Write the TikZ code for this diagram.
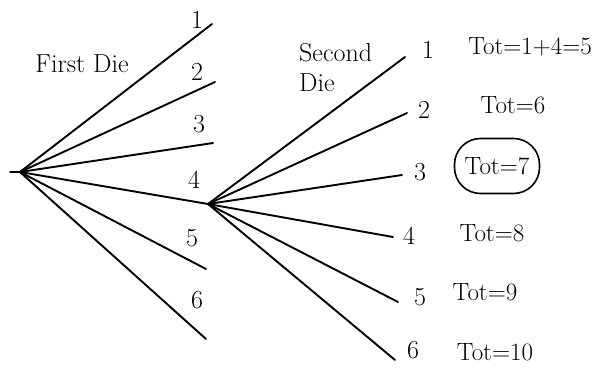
\documentclass[tikz,border=0pt]{standalone}
\usepackage{fontspec}
\begin{document}
\begin{tikzpicture}[x=1pt,y=-1pt,
  branch/.style={line width=1.9pt, line cap=round},
  lbl/.style={font=\fontsize{26}{29}\selectfont, inner sep=0pt},
  tot/.style={font=\fontsize{25}{28}\selectfont, inner sep=0pt},
  circled/.style={draw, line width=1.6pt, rounded corners=26pt, minimum width=85pt, minimum height=55pt, inner sep=0pt}]
\useasboundingbox (0,0) rectangle (601,369);
% first die
\coordinate (r1) at (20,172);
\coordinate (r0) at (10,172);
\coordinate (a1) at (212,24);
\coordinate (a2) at (215,82);
\coordinate (a3) at (213,143);
\coordinate (r2) at (208,204);
\coordinate (a5) at (206,269);
\coordinate (a6) at (206,339);
\draw[branch] (r0) -- (r1);
\foreach \e in {a1,a2,a3,r2,a5,a6} \draw[branch] (r1) -- (\e);
\node[lbl] (l1) at (197,20) {1};
\node[lbl] (l2) at (197,72) {2};
\node[lbl] (l3) at (199,124) {3};
\node[lbl] (l4) at (194,180) {4};
\node[lbl] (l5) at (192,238) {5};
\node[lbl] (l6) at (197,300) {6};
\node[lbl] (fd) at (82,64) {First Die};
% second die
\coordinate (b1) at (405,57);
\coordinate (b2) at (407,113);
\coordinate (b3) at (402,175);
\coordinate (b4) at (393,237);
\coordinate (b5) at (398,302);
\coordinate (b6) at (395,360);
\foreach \e in {b1,b2,b3,b4,b5,b6} \draw[branch] (r2) -- (\e);
\node[lbl] (m1) at (428,50) {1};
\node[lbl] (m2) at (424,110) {2};
\node[lbl] (m3) at (420,172) {3};
\node[lbl] (m4) at (409,236) {4};
\node[lbl] (m5) at (420,297) {5};
\node[lbl] (m6) at (413,350) {6};
\node[lbl, align=left, anchor=north west] (sd) at (299,43) {Second\\[1pt]Die};
% totals
\node[tot] (t1) at (530,47) {Tot=1+4=5};
\node[tot] (t2) at (513,105) {Tot=6};
\node[circled, tot] (t3) at (497,166) {Tot=7};
\node[tot] (t4) at (492,233) {Tot=8};
\node[tot] (t5) at (485,292) {Tot=9};
\node[tot] (t6) at (495,352) {Tot=10};
\end{tikzpicture}
\end{document}
